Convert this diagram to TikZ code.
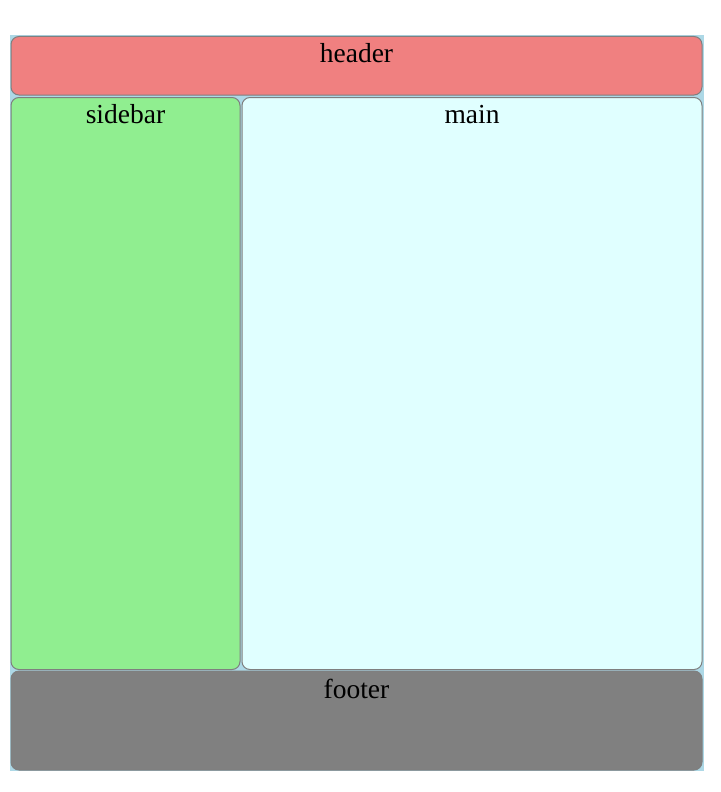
\documentclass[tikz,border=0pt]{standalone}
\usepackage{fontspec}
\setmainfont{Liberation Serif}
\definecolor{bgblue}{HTML}{ADD8E6}
\definecolor{headerred}{HTML}{F08080}
\definecolor{sidebargreen}{HTML}{90EE90}
\definecolor{maincyan}{HTML}{E0FFFF}
\definecolor{footergray}{HTML}{808080}
\definecolor{edgegray}{HTML}{7F7F7F}
\tikzset{
    pane/.style={draw=edgegray,line width=1pt,rounded corners=8pt,inner sep=0pt,outer sep=0pt},
    caption/.style={anchor=base,inner sep=0pt,font=\fontsize{27.5}{33}\selectfont}
}
\begin{document}
\begin{tikzpicture}[x=1pt,y=-1pt]
                \useasboundingbox (0,0) rectangle (720,792);
                \fill[bgblue] (10,35.5) rectangle (704,771);

                \node[pane,fill=headerred,minimum width=691pt,minimum height=58.5pt] (header) at (356.5,65.75) {};
                \node[pane,fill=sidebargreen,minimum width=229pt,minimum height=572pt] (sidebar) at (125.5,383.5) {};
                \node[pane,fill=maincyan,minimum width=460pt,minimum height=572pt] (main) at (472,383.5) {};
                \node[pane,fill=footergray,minimum width=691pt,minimum height=99pt] (footer) at (356.5,720.5) {};

                \node[caption] (headertext) at ([yshift=-26.5pt]header.north) {header};
                \node[caption] (sidebartext) at ([yshift=-26pt]sidebar.north) {sidebar};
                \node[caption] (maintext) at ([yshift=-26pt]main.north) {main};
                \node[caption] (footertext) at ([yshift=-27pt]footer.north) {footer};
            \end{tikzpicture}
\end{document}
